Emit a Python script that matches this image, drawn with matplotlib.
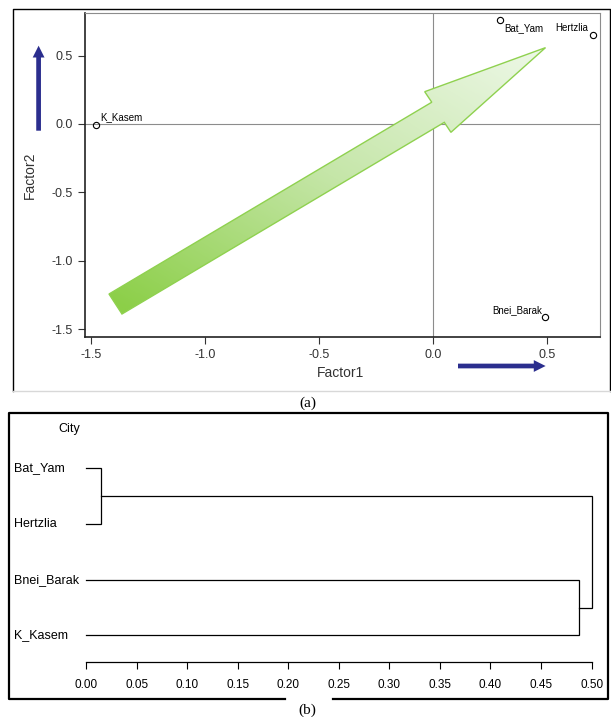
import numpy as np
import matplotlib.pyplot as plt
import matplotlib.transforms as mtrans
from matplotlib.patches import Polygon, FancyArrowPatch, ArrowStyle
from matplotlib.lines import Line2D
from matplotlib.colors import LinearSegmentedColormap

plt.rcParams['font.family'] = ['Liberation Sans', 'DejaVu Sans']

# factor scores (panel a)
cities = ['K_Kasem', 'Bat_Yam', 'Hertzlia', 'Bnei_Barak']
factor1 = [-1.478, 0.292, 0.699, 0.489]
factor2 = [-0.01, 0.76, 0.653, -1.409]

# trend arrow outline (data coords)
arrow_x = [-1.423, -0.007, -0.038, 0.492, 0.077, 0.048, -1.366]
arrow_y = [-1.243, 0.159, 0.236, 0.558, -0.061, 0.012, -1.389]

# dendrogram (panel b)
leaves = ['Bat_Yam', 'Hertzlia', 'Bnei_Barak', 'K_Kasem']
merge_a = 0.015   # Bat_Yam + Hertzlia
merge_b = 0.488   # Bnei_Barak + K_Kasem
merge_top = 0.500
dist_ticks = np.arange(0, 0.51, 0.05)

W, H = 611, 717
fig = plt.figure(figsize=(W/100, H/100), dpi=100)

def rect(l, t, r, b):
    return [l/W, 1 - b/H, (r-l)/W, (b-t)/H]

def fx(px):
    return px/W

def fy(py):
    return 1 - py/H

# ---------- panel (a) ----------
ax = fig.add_axes(rect(84.6, 13.3, 600, 336.7))
ax.set_xlim(-1.53, 0.731)
ax.set_ylim(-1.555, 0.809)
ax.axhline(0, color='#8c8c8c', lw=0.8, zorder=1)
ax.axvline(0, color='#8c8c8c', lw=0.8, zorder=1)

poly = Polygon(np.column_stack([arrow_x, arrow_y]), closed=True,
               facecolor='none', edgecolor='#8fd14f', lw=1.0, zorder=3)
ax.add_patch(poly)
gx = np.linspace(-1.53, 0.731, 300)
gy = np.linspace(-1.555, 0.809, 300)
GX, GY = np.meshgrid(gx, gy)
tail = np.array([(arrow_x[0]+arrow_x[-1])/2, (arrow_y[0]+arrow_y[-1])/2])
tip = np.array([arrow_x[3], arrow_y[3]])
d = tip - tail
tt = ((GX-tail[0])*d[0] + (GY-tail[1])*d[1]) / (d @ d)
cmap = LinearSegmentedColormap.from_list('g', ['#8ccf48', '#c5e6a8', '#eef8e8'])
im = ax.imshow(np.clip(tt, 0, 1), extent=(gx[0], gx[-1], gy[0], gy[-1]),
               origin='lower', cmap=cmap, aspect='auto', zorder=2)
im.set_clip_path(poly)
ax.set_xlim(-1.53, 0.731)
ax.set_ylim(-1.555, 0.809)

ax.plot(factor1, factor2, 'o', mfc='none', mec='black', ms=4.5, mew=0.8, zorder=4)
offsets = {'K_Kasem': ((3, 2), 'left', 'bottom'),
           'Bat_Yam': ((3, -2), 'left', 'top'),
           'Hertzlia': ((-3, 1), 'right', 'bottom'),
           'Bnei_Barak': ((-2, 1), 'right', 'bottom')}
for name, x, y in zip(cities, factor1, factor2):
    off, ha, va = offsets[name]
    ax.annotate(name, (x, y), xytext=off, textcoords='offset points',
                ha=ha, va=va, fontsize=7, zorder=5)

ax.set_xticks([-1.5, -1.0, -0.5, 0.0, 0.5])
ax.set_yticks([-1.5, -1.0, -0.5, 0.0, 0.5])
ax.xaxis.set_major_formatter(plt.FormatStrFormatter('%.1f'))
ax.yaxis.set_major_formatter(plt.FormatStrFormatter('%.1f'))
ax.tick_params(labelsize=9, labelcolor='#333333', length=5, width=0.8, colors='#333333')
for s in ['top', 'right']:
    ax.spines[s].set_color('#8c8c8c')
    ax.spines[s].set_linewidth(0.8)
for s in ['left', 'bottom']:
    ax.spines[s].set_color('#222222')
    ax.spines[s].set_linewidth(1.2)
fig.text(fx(341), fy(373), 'Factor1', ha='center', va='center', fontsize=10, color='#333333')
fig.text(fx(30), fy(175), 'Factor2', ha='center', va='center', fontsize=10,
         color='#333333', rotation=90)

blue = '#2b2e8e'
for (x0, y0), (x1, y1) in [((38.6, 130.7), (38.6, 45.7)), ((458, 366), (545.6, 366))]:
    fig.add_artist(FancyArrowPatch((fx(x0), fy(y0)), (fx(x1), fy(y1)),
                                   transform=fig.transFigure,
                                   arrowstyle=ArrowStyle('simple', head_length=8.5,
                                                         head_width=8.5, tail_width=3.4),
                                   mutation_scale=1, shrinkA=0, shrinkB=0,
                                   color=blue, lw=0))

# outer frame (a)
fig.add_artist(Line2D([fx(12.9), fx(12.9), fx(610), fx(610)],
                      [fy(391), fy(9.3), fy(9.3), fy(391)],
                      transform=fig.transFigure, color='black', lw=1.0))
fig.add_artist(Line2D([fx(12.9), fx(610)], [fy(391), fy(391)],
                      transform=fig.transFigure, color='#d8d8d8', lw=1.0))
fig.text(fx(308), fy(403), '(a)', ha='center', va='center', fontsize=11,
         family=['Liberation Serif', 'DejaVu Serif'])

# ---------- panel (b) ----------
bx = fig.add_axes(rect(86.1, 440, 591.6, 662.3))
spacing = 55.6
ypos = {name: (len(leaves)-1-i) for i, name in enumerate(leaves)}
bx.set_xlim(0, 0.5)
bx.set_ylim(-27/spacing, (662.3-440)/spacing - 27/spacing)

def ushape(h, y1, y2, c1=0.0, c2=0.0):
    bx.plot([c1, h, h, c2], [y1, y1, y2, y2], color='black', lw=0.9,
            solid_joinstyle='miter', clip_on=False)

ya1, ya2 = ypos['Bat_Yam'], ypos['Hertzlia']
yb1, yb2 = ypos['Bnei_Barak'], ypos['K_Kasem']
ushape(merge_a, ya1, ya2)
ushape(merge_b, yb1, yb2)
ushape(merge_top, (ya1+ya2)/2, (yb1+yb2)/2, merge_a, merge_b)

tr = mtrans.blended_transform_factory(fig.transFigure, bx.transData)
for name in leaves:
    bx.text(fx(13.6), ypos[name], name, transform=tr, ha='left', va='center', fontsize=9)
fig.text(fx(58.5), fy(429), 'City', ha='left', va='center', fontsize=9)

for s in ['top', 'right', 'left']:
    bx.spines[s].set_visible(False)
bx.spines['bottom'].set_linewidth(0.9)
bx.set_yticks([])
bx.set_xticks(dist_ticks)
bx.xaxis.set_major_formatter(plt.FormatStrFormatter('%.2f'))
bx.tick_params(axis='x', labelsize=8.5, length=5, width=0.8, pad=7)

# outer frame (b) with gap for caption
fig.add_artist(Line2D([fx(284.5), fx(8.6), fx(8.6), fx(608), fx(608), fx(333)],
                      [fy(699), fy(699), fy(413.3), fy(413.3), fy(699), fy(699)],
                      transform=fig.transFigure, color='black', lw=1.6))
fig.text(fx(307), fy(710), '(b)', ha='center', va='center', fontsize=11,
         family=['Liberation Serif', 'DejaVu Serif'])

fig.savefig('out.png', dpi=100)
